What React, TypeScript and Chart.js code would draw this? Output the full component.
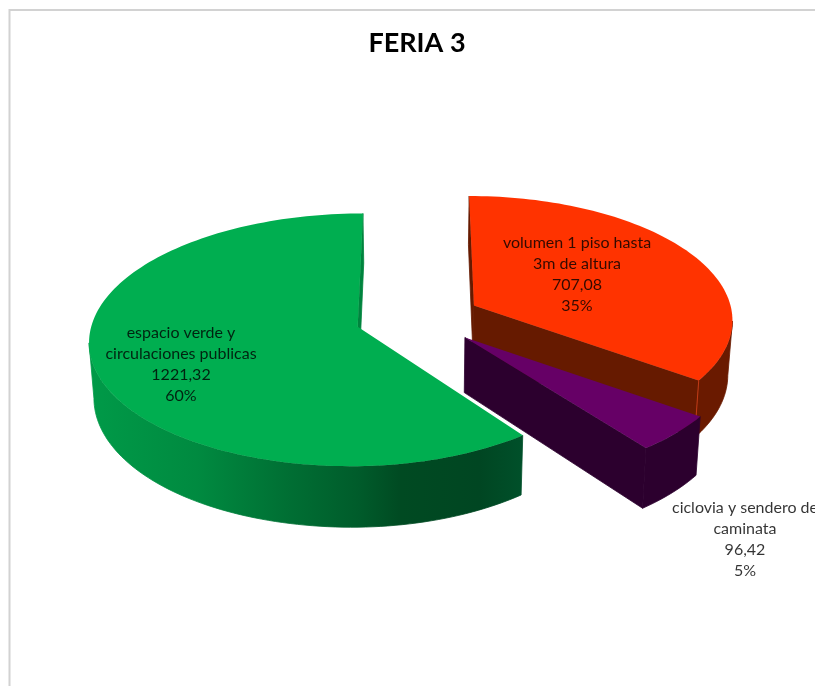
import React, { useEffect, useRef } from "react";
import { Chart, registerables } from "chart.js";

Chart.register(...registerables);

const chartTitle = "FERIA 3";
const categoryLines = [
  ["volumen 1 piso hasta", "3m de altura"],
  ["ciclovia y sendero de", "caminata"],
  ["espacio verde y", "circulaciones publicas"],
];
const areaValues = [707.08, 96.42, 1221.32];
const topColors = ["#ff3300", "#660066", "#00ae50"];

// Styling of the extruded pie, kept apart from the data.
const wallStops = [
  [[0, "#6a1a00"], [1, "#6a1a00"]],
  [[0, "#2c002e"], [1, "#2c002e"]],
  [
    [0, "#009a48"],
    [0.25, "#008a40"],
    [0.45, "#007034"],
    [0.62, "#005c2b"],
    [0.72, "#004a22"],
    [0.9, "#004622"],
    [1, "#00502a"],
  ],
];
const cutColors = ["#661a00", "#2c002e", "#00843e"];
const cornerLines = ["#d8431a", null, null];
const labelAnchors = [
  { x: 577, y: 243 },
  { x: 745, y: 508 },
  { x: 181, y: 333 },
];
const sliceNudgeX = [5, 5, -3];
const rightSqueeze = [0.98, 1, 0.97];
const LABEL_LINE = 20.8;
const EXPLODE = 0.223;
const WIDTH_K = 1.062;
const HEIGHT_K = 0.4945;
const PERSPECTIVE = 0.103;
const DEPTH_K = 0.218;
const BOTTOM_SHRINK = 0.015;

type Pt = { x: number; y: number };

const pie3d = {
  id: "pie3d",
  beforeDraw(chart: any) {
    const { ctx, width, height } = chart;
    ctx.save();
    ctx.strokeStyle = "#d2d2d2";
    ctx.lineWidth = 2;
    ctx.beginPath();
    ctx.moveTo(width, 10);
    ctx.lineTo(9.5, 10);
    ctx.lineTo(9.5, height);
    ctx.stroke();
    ctx.restore();
  },
  beforeDatasetsDraw(chart: any) {
    const { ctx } = chart;
    const arcs = chart.getDatasetMeta(0).data;
    const total = areaValues.reduce((a, b) => a + b, 0);

    arcs.forEach((arc: any, i: number) => {
      const R = arc.outerRadius;
      const A = R * WIDTH_K;
      const B = R * HEIGHT_K;
      const depth = R * DEPTH_K;
      const start = arc.startAngle + Math.PI / 2;
      const end = arc.endAngle + Math.PI / 2;
      const mid = (start + end) / 2;
      const ox = Math.sin(mid) * EXPLODE;
      const oy = -Math.cos(mid) * EXPLODE;

      // Ground-plane point (radius r at angle t, clockwise from the top) to the screen.
      const project = (r: number, t: number, low: boolean): Pt => {
        const sx = r * Math.sin(t);
        const u = ox + (sx > 0 ? sx * rightSqueeze[i] : sx);
        const v = oy - r * Math.cos(t);
        const w = 1 - PERSPECTIVE * v;
        let x = (A * u) / w;
        let y = (B * v) / w;
        if (low) {
          x *= 1 - BOTTOM_SHRINK;
          y += depth / w;
        }
        return { x: arc.x + sliceNudgeX[i] + x, y: arc.y + y };
      };

      const steps = Math.max(8, Math.ceil((end - start) / (Math.PI / 120)));
      const angles: number[] = [];
      for (let s = 0; s <= steps; s++) angles.push(start + ((end - start) * s) / steps);
      const apex = project(0, 0, false);
      const apexLow = project(0, 0, true);
      const rim = angles.map((t) => project(1, t, false));
      const rimLow = angles.map((t) => project(1, t, true));
      const last = rim.length - 1;

      const poly = (pts: Pt[], fill: any, seal = false) => {
        ctx.beginPath();
        pts.forEach((p, k) => (k ? ctx.lineTo(p.x, p.y) : ctx.moveTo(p.x, p.y)));
        ctx.closePath();
        ctx.fillStyle = fill;
        ctx.fill();
        if (seal) {
          ctx.strokeStyle = fill;
          ctx.lineWidth = 0.8;
          ctx.stroke();
        }
      };

      ctx.save();
      // Radial cut faces: only those turned toward the viewer are painted.
      if (apex.x > rim[0].x) poly([apex, rim[0], rimLow[0], apexLow], cutColors[i], true);
      if (rim[last].x > apex.x) poly([rim[last], apex, apexLow, rimLow[last]], cutColors[i], true);

      // Outer wall: the run of the rim moving leftward faces the viewer.
      const xs = rim.map((p) => p.x);
      const grad = ctx.createLinearGradient(Math.min(...xs), 0, Math.max(...xs), 0);
      wallStops[i].forEach(([o, c]) => grad.addColorStop(o as number, c as string));
      let a = 0;
      while (a < last && rim[a].x <= rim[a + 1].x) a++;
      let b = a;
      while (b < last && rim[b].x > rim[b + 1].x) b++;
      if (b > a) {
        poly([...rim.slice(a, b + 1), ...rimLow.slice(a, b + 1).reverse()], grad, true);
      }
      if (cornerLines[i]) {
        ctx.strokeStyle = cornerLines[i];
        ctx.lineWidth = 0.8;
        ctx.beginPath();
        ctx.moveTo(rim[last].x, rim[last].y);
        ctx.lineTo(rimLow[last].x, rimLow[last].y);
        ctx.stroke();
      }

      // Top face.
      poly([apex, ...rim], topColors[i]);
      ctx.restore();
    });

    // Data labels: category, value with decimal comma, share of the total.
    ctx.save();
    ctx.font = '16px "Lato"';
    ctx.textAlign = "center";
    ctx.textBaseline = "middle";
    ctx.fillStyle = "rgba(0,0,0,0.8)";
    areaValues.forEach((value, i) => {
      const lines = [
        ...categoryLines[i],
        value.toFixed(2).replace(".", ","),
        `${Math.round((value / total) * 100)}%`,
      ];
      lines.forEach((line, j) => {
        ctx.fillText(line, labelAnchors[i].x, labelAnchors[i].y + j * LABEL_LINE);
      });
    });
    ctx.restore();
    return false;
  },
};

export default function App() {
  const ref = useRef<HTMLCanvasElement>(null);
  useEffect(() => {
    const chart = new Chart(ref.current!, {
      type: "pie",
      data: {
        labels: categoryLines.map((l) => l.join(" ")),
        datasets: [{ data: areaValues, backgroundColor: topColors, borderWidth: 0 }],
      },
      options: {
        responsive: false,
        animation: false,
        layout: { padding: { left: 19, top: 0, right: 0, bottom: 119 } },
        plugins: {
          legend: { display: false },
          tooltip: { enabled: false },
          title: {
            display: true,
            text: chartTitle,
            color: "#000000",
            font: { family: "Lato", size: 27, weight: "bold" },
            padding: { top: 27, bottom: 9.4 },
          },
        },
      },
      plugins: [pie3d],
    });
    return () => chart.destroy();
  }, []);
  return (
    <div style={{ position: "absolute", left: 0, top: 0, width: 815, height: 686, overflow: "hidden" }}>
      <canvas ref={ref} width={815} height={686} style={{ display: "block" }} />
    </div>
  );
}
